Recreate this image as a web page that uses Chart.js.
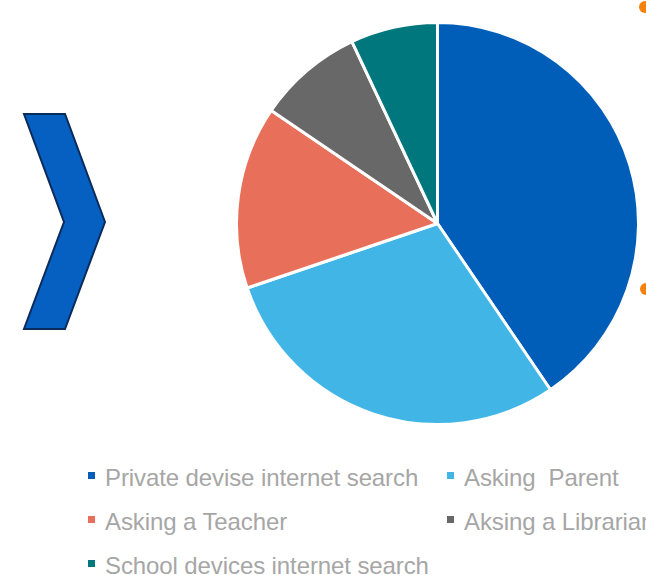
<!DOCTYPE html>
<html>
<head>
<meta charset="utf-8">
<script src="https://cdn.jsdelivr.net/npm/chart.js@4"></script>
<style>
  html, body { margin:0; padding:0; background:#fff; }
  body { width:646px; height:575px; position:relative; overflow:hidden; font-family:"Liberation Sans", Arial, sans-serif; }
  #pieWrap { position:absolute; left:235px; top:21px; width:405px; height:405px; }
  .lg-item { position:absolute; height:24px; line-height:24px; font-size:24px; color:#A6A6A6; white-space:pre; letter-spacing:-0.1px; }
  .lg-box { position:absolute; width:7px; height:7px; }
  svg { position:absolute; left:0; top:0; }
</style>
</head>
<body>
<svg width="646" height="575">
  <polygon points="24,114 65,114 105,222 65,329 24,329 64,222" fill="#0560C2" stroke="#0B2B5A" stroke-width="2" stroke-linejoin="miter"/>
  <circle cx="645" cy="7" r="6" fill="#F5820D"/>
  <circle cx="646" cy="289" r="6" fill="#F5820D"/>
</svg>
<div id="pieWrap"><canvas id="c" width="405" height="405"></canvas></div>
<div id="legend"></div>
<script>
const categories = [
  "Private devise internet search",
  "Asking  Parent",
  "Asking a Teacher",
  "Aksing a Librarian",
  "School devices internet search"
];
const values = [40.5, 29.3, 14.7, 8.5, 7.0];
const colors = ["#005EB8", "#41B6E6", "#E8705A", "#686868", "#00777D"];

const chart = new Chart(document.getElementById('c'), {
  type: 'pie',
  data: {
    labels: categories,
    datasets: [{
      data: values,
      backgroundColor: colors,
      borderColor: '#ffffff',
      borderWidth: 3
    }]
  },
  options: {
    responsive: false,
    animation: false,
    events: [],
    layout: { padding: 0 },
    plugins: { legend: { display: false }, tooltip: { enabled: false } }
  }
});

// HTML legend built from the chart's own labels and colours, in a 2-column grid
const legendEl = document.getElementById('legend');
const colX = [88, 447];
const rowBaseline = [486, 530, 574];
chart.data.labels.forEach((lab, i) => {
  const col = i % 2, row = Math.floor(i / 2);
  const bx = colX[col], base = rowBaseline[row];
  const box = document.createElement('div');
  box.className = 'lg-box';
  box.style.left = bx + 'px';
  box.style.top = (base - 14) + 'px';
  box.style.background = chart.data.datasets[0].backgroundColor[i];
  legendEl.appendChild(box);
  const t = document.createElement('div');
  t.className = 'lg-item';
  t.style.left = (bx + 17) + 'px';
  t.style.top = (base - 20.3) + 'px';
  t.textContent = lab;
  legendEl.appendChild(t);
});
</script>
</body>
</html>
